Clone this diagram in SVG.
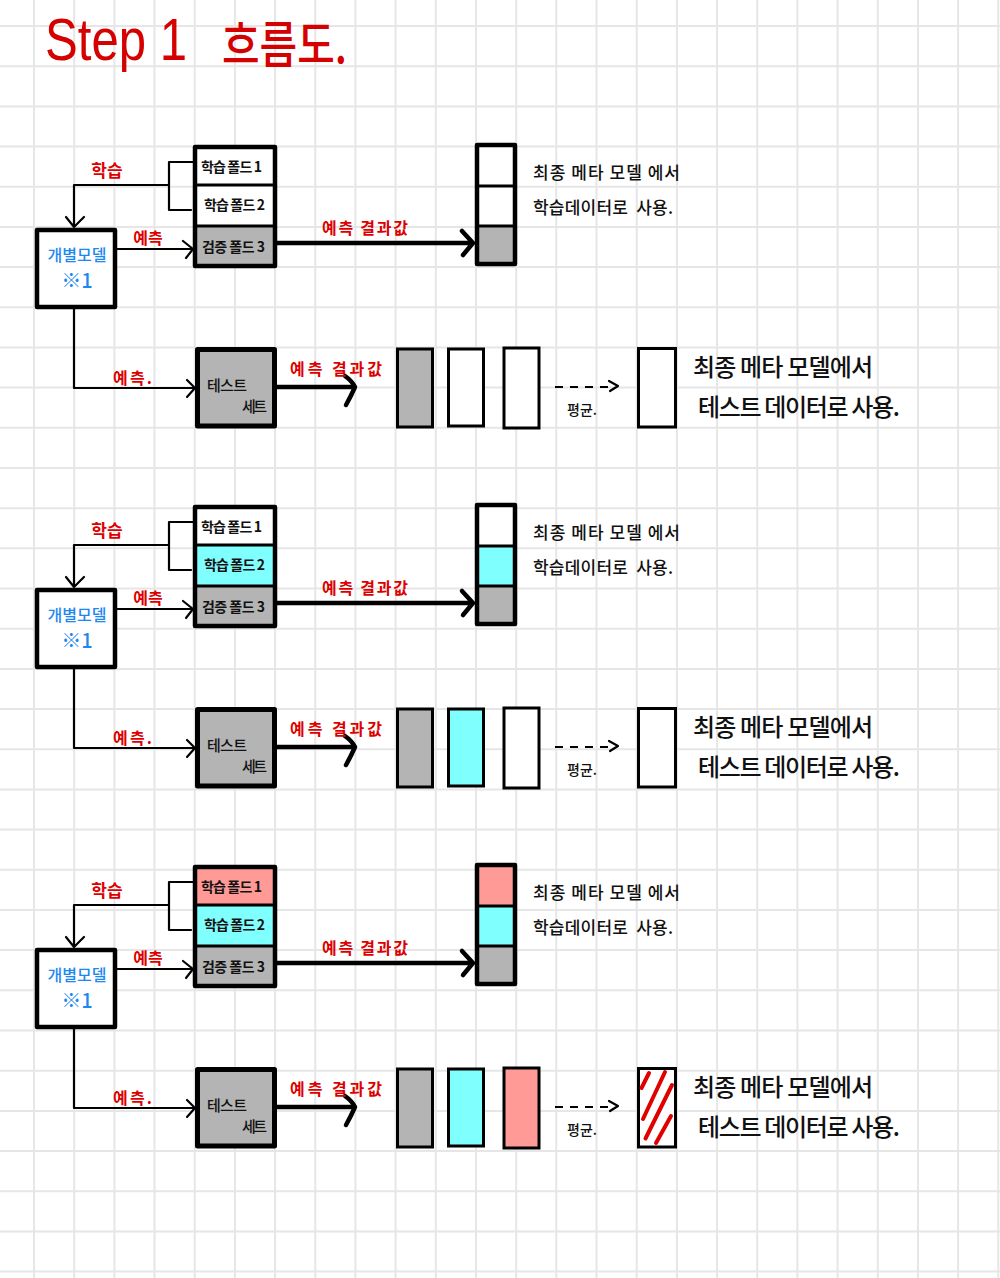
<svg xmlns="http://www.w3.org/2000/svg" width="1000" height="1278" viewBox="0 0 1000 1278">
<style>
.grid{stroke:#e6e6e6;stroke-width:2;fill:none}
.k{fill:none;stroke:#000;stroke-width:2.2;stroke-linecap:round;stroke-linejoin:round}
.K{fill:none;stroke:#000;stroke-width:4.5;stroke-linecap:round;stroke-linejoin:round}
.dash{fill:none;stroke:#000;stroke-width:1.8;stroke-dasharray:8 7}
.box{stroke:#000;stroke-width:4.5;stroke-linejoin:round}
.tb{stroke:#000;stroke-width:5;stroke-linejoin:round}
.dv{stroke:#000;stroke-width:3}
.pr{stroke:#000;stroke-width:3}
.g{fill:#b4b4b4}.c{fill:#80ffff}.s{fill:#ff9a96}.w{fill:#fff}
text{font-family:"Noto Sans CJK KR","Liberation Sans",sans-serif}
text.latin{font-family:"Liberation Sans",sans-serif}
.red{fill:#dd0000;font-weight:700}
.blue{fill:#1e88f0;font-weight:500}
.ink{fill:#111;font-weight:500}
.fold{fill:#111;font-weight:700}
.hatch{stroke:#e00000;stroke-width:4;stroke-linecap:round;fill:none}
</style>
<rect width="1000" height="1278" fill="#fff"/>
<path class="grid" d="M34 0V1278M74.2 0V1278M114.4 0V1278M154.5 0V1278M194.7 0V1278M234.9 0V1278M275.1 0V1278M315.3 0V1278M355.4 0V1278M395.6 0V1278M435.8 0V1278M476 0V1278M516.2 0V1278M556.3 0V1278M596.5 0V1278M636.7 0V1278M676.9 0V1278M717.1 0V1278M757.2 0V1278M797.4 0V1278M837.6 0V1278M877.8 0V1278M918 0V1278M958.1 0V1278M998.3 0V1278M0 26H1000M0 66.2H1000M0 106.4H1000M0 146.5H1000M0 186.7H1000M0 226.9H1000M0 267.1H1000M0 307.3H1000M0 347.4H1000M0 387.6H1000M0 427.8H1000M0 468H1000M0 508.2H1000M0 548.3H1000M0 588.5H1000M0 628.7H1000M0 668.9H1000M0 709.1H1000M0 749.2H1000M0 789.4H1000M0 829.6H1000M0 869.8H1000M0 910H1000M0 950.1H1000M0 990.3H1000M0 1030.5H1000M0 1070.7H1000M0 1110.9H1000M0 1151H1000M0 1191.2H1000M0 1231.4H1000M0 1271.6H1000"/>

<g id="title">
<text class="latin" x="45" y="60" font-size="60" fill="#d50000" textLength="142" lengthAdjust="spacingAndGlyphs">Step 1</text>
<text x="222" y="63" font-size="50" fill="#d50000" font-weight="500" textLength="125" lengthAdjust="spacingAndGlyphs">흐름도.</text>
</g>

<g id="connectors">
<g id="conn-b1">
<path class="k" d="M193 162H169V210H191M169 185H74V226M66 217L74 227L84 217"/>
<path class="k" d="M117 249H192M183 241L193 249L186 258"/>
<path class="K" d="M277 243H472M462 231L473 243L463 255"/>
<path class="k" d="M74 309V388H194M187 380L195 388L187 397"/>
<path class="K" d="M277 387H354M345 376Q352 381 355 387Q351 396 346 405"/>
<path class="dash" d="M555 387H612"/><path class="k" d="M609 381L618 386L610 391"/>
<text class="red" x="107" y="177" font-size="17" text-anchor="middle">학습</text>
<text class="red" x="148" y="244" font-size="16" text-anchor="middle">예측</text>
<text class="red" x="322" y="234" font-size="16" textLength="86">예측 결과값</text>
<text class="red" x="113" y="384" font-size="16" textLength="39">예측.</text>
<text class="red" x="290" y="375" font-size="16" textLength="92">예측 결과값</text>
<text class="ink" x="567" y="415" font-size="14">평균.</text>
</g>
<g id="conn-b2" transform="translate(0,360)">
<path class="k" d="M193 162H169V210H191M169 185H74V226M66 217L74 227L84 217"/>
<path class="k" d="M117 249H192M183 241L193 249L186 258"/>
<path class="K" d="M277 243H472M462 231L473 243L463 255"/>
<path class="k" d="M74 309V388H194M187 380L195 388L187 397"/>
<path class="K" d="M277 387H354M345 376Q352 381 355 387Q351 396 346 405"/>
<path class="dash" d="M555 387H612"/><path class="k" d="M609 381L618 386L610 391"/>
<text class="red" x="107" y="177" font-size="17" text-anchor="middle">학습</text>
<text class="red" x="148" y="244" font-size="16" text-anchor="middle">예측</text>
<text class="red" x="322" y="234" font-size="16" textLength="86">예측 결과값</text>
<text class="red" x="113" y="384" font-size="16" textLength="39">예측.</text>
<text class="red" x="290" y="375" font-size="16" textLength="92">예측 결과값</text>
<text class="ink" x="567" y="415" font-size="14">평균.</text>
</g>
<g id="conn-b3" transform="translate(0,720)">
<path class="k" d="M193 162H169V210H191M169 185H74V226M66 217L74 227L84 217"/>
<path class="k" d="M117 249H192M183 241L193 249L186 258"/>
<path class="K" d="M277 243H472M462 231L473 243L463 255"/>
<path class="k" d="M74 309V388H194M187 380L195 388L187 397"/>
<path class="K" d="M277 387H354M345 376Q352 381 355 387Q351 396 346 405"/>
<path class="dash" d="M555 387H612"/><path class="k" d="M609 381L618 386L610 391"/>
<text class="red" x="107" y="177" font-size="17" text-anchor="middle">학습</text>
<text class="red" x="148" y="244" font-size="16" text-anchor="middle">예측</text>
<text class="red" x="322" y="234" font-size="16" textLength="86">예측 결과값</text>
<text class="red" x="113" y="384" font-size="16" textLength="39">예측.</text>
<text class="red" x="290" y="375" font-size="16" textLength="92">예측 결과값</text>
<text class="ink" x="567" y="415" font-size="14">평균.</text>
</g>
</g>

<!-- Block 1 -->
<g id="block1">
<g id="b1-model"><rect class="box w" x="37" y="230" width="78" height="77"/>
<text class="blue" x="77" y="261" font-size="16" text-anchor="middle" textLength="59">개별모델</text>
<text class="blue" x="77" y="288" font-size="20" text-anchor="middle">※1</text></g>
<g id="b1-folds">
<rect class="w" x="195" y="147" width="80" height="38"/><rect class="w" x="195" y="185" width="80" height="41"/><rect class="g" x="195" y="226" width="80" height="40"/>
<path class="dv" d="M195 185H275M195 226H275"/><rect class="box" fill="none" x="195" y="147" width="80" height="119"/>
<text class="fold" x="201" y="172" font-size="14" textLength="61">학습 폴드 1</text>
<text class="fold" x="204" y="210" font-size="14" textLength="61">학습 폴드 2</text>
<text class="fold" x="202" y="252" font-size="14" textLength="63">검증 폴드 3</text></g>
<g id="b1-result">
<rect class="w" x="477" y="145" width="38" height="41"/><rect class="w" x="477" y="186" width="38" height="40"/><rect class="g" x="477" y="226" width="38" height="38"/>
<path class="dv" d="M477 186H515M477 226H515"/><rect class="box" fill="none" x="477" y="145" width="38" height="119"/>
<text class="ink" x="533" y="179" font-size="17" textLength="147">최종 메타 모델 에서</text>
<text class="ink" x="533" y="214" font-size="17" textLength="140">학습데이터로&#160;&#160;사용.</text></g>
<g id="b1-test"><rect class="tb g" x="197.5" y="349.5" width="77" height="76.5"/>
<text class="ink" x="207" y="391" font-size="15" textLength="40">테스트</text>
<text class="ink" x="242" y="412" font-size="15" textLength="25">세트</text></g>
<g id="b1-preds">
<rect class="pr g" x="397.5" y="349" width="35" height="78"/>
<rect class="pr w" x="448.5" y="349" width="35" height="77"/>
<rect class="pr w" x="504" y="348" width="35" height="80"/></g>
<g id="b1-final"><rect class="pr w" x="638.5" y="348.5" width="37" height="78.5"/>
<text class="ink" x="693" y="376" font-size="24" textLength="180">최종 메타 모델에서</text>
<text class="ink" x="698" y="416" font-size="24" textLength="202">테스트 데이터로 사용.</text></g>
</g>

<!-- Block 2 -->
<g id="block2" transform="translate(0,360)">
<g id="b2-model"><rect class="box w" x="37" y="230" width="78" height="77"/>
<text class="blue" x="77" y="261" font-size="16" text-anchor="middle" textLength="59">개별모델</text>
<text class="blue" x="77" y="288" font-size="20" text-anchor="middle">※1</text></g>
<g id="b2-folds">
<rect class="w" x="195" y="147" width="80" height="38"/><rect class="c" x="195" y="185" width="80" height="41"/><rect class="g" x="195" y="226" width="80" height="40"/>
<path class="dv" d="M195 185H275M195 226H275"/><rect class="box" fill="none" x="195" y="147" width="80" height="119"/>
<text class="fold" x="201" y="172" font-size="14" textLength="61">학습 폴드 1</text>
<text class="fold" x="204" y="210" font-size="14" textLength="61">학습 폴드 2</text>
<text class="fold" x="202" y="252" font-size="14" textLength="63">검증 폴드 3</text></g>
<g id="b2-result">
<rect class="w" x="477" y="145" width="38" height="41"/><rect class="c" x="477" y="186" width="38" height="40"/><rect class="g" x="477" y="226" width="38" height="38"/>
<path class="dv" d="M477 186H515M477 226H515"/><rect class="box" fill="none" x="477" y="145" width="38" height="119"/>
<text class="ink" x="533" y="179" font-size="17" textLength="147">최종 메타 모델 에서</text>
<text class="ink" x="533" y="214" font-size="17" textLength="140">학습데이터로&#160;&#160;사용.</text></g>
<g id="b2-test"><rect class="tb g" x="197.5" y="349.5" width="77" height="76.5"/>
<text class="ink" x="207" y="391" font-size="15" textLength="40">테스트</text>
<text class="ink" x="242" y="412" font-size="15" textLength="25">세트</text></g>
<g id="b2-preds">
<rect class="pr g" x="397.5" y="349" width="35" height="78"/>
<rect class="pr c" x="448.5" y="349" width="35" height="77"/>
<rect class="pr w" x="504" y="348" width="35" height="80"/></g>
<g id="b2-final"><rect class="pr w" x="638.5" y="348.5" width="37" height="78.5"/>
<text class="ink" x="693" y="376" font-size="24" textLength="180">최종 메타 모델에서</text>
<text class="ink" x="698" y="416" font-size="24" textLength="202">테스트 데이터로 사용.</text></g>
</g>

<!-- Block 3 -->
<g id="block3" transform="translate(0,720)">
<g id="b3-model"><rect class="box w" x="37" y="230" width="78" height="77"/>
<text class="blue" x="77" y="261" font-size="16" text-anchor="middle" textLength="59">개별모델</text>
<text class="blue" x="77" y="288" font-size="20" text-anchor="middle">※1</text></g>
<g id="b3-folds">
<rect class="s" x="195" y="147" width="80" height="38"/><rect class="c" x="195" y="185" width="80" height="41"/><rect class="g" x="195" y="226" width="80" height="40"/>
<path class="dv" d="M195 185H275M195 226H275"/><rect class="box" fill="none" x="195" y="147" width="80" height="119"/>
<text class="fold" x="201" y="172" font-size="14" textLength="61">학습 폴드 1</text>
<text class="fold" x="204" y="210" font-size="14" textLength="61">학습 폴드 2</text>
<text class="fold" x="202" y="252" font-size="14" textLength="63">검증 폴드 3</text></g>
<g id="b3-result">
<rect class="s" x="477" y="145" width="38" height="41"/><rect class="c" x="477" y="186" width="38" height="40"/><rect class="g" x="477" y="226" width="38" height="38"/>
<path class="dv" d="M477 186H515M477 226H515"/><rect class="box" fill="none" x="477" y="145" width="38" height="119"/>
<text class="ink" x="533" y="179" font-size="17" textLength="147">최종 메타 모델 에서</text>
<text class="ink" x="533" y="214" font-size="17" textLength="140">학습데이터로&#160;&#160;사용.</text></g>
<g id="b3-test"><rect class="tb g" x="197.5" y="349.5" width="77" height="76.5"/>
<text class="ink" x="207" y="391" font-size="15" textLength="40">테스트</text>
<text class="ink" x="242" y="412" font-size="15" textLength="25">세트</text></g>
<g id="b3-preds">
<rect class="pr g" x="397.5" y="349" width="35" height="78"/>
<rect class="pr c" x="448.5" y="349" width="35" height="77"/>
<rect class="pr s" x="504" y="348" width="35" height="80"/></g>
<g id="b3-final"><rect class="pr w" x="638.5" y="348.5" width="37" height="78.5"/>
<path class="hatch" d="M649 353L641.5 368M665 352L643 399M672 365L645.5 418.5M671 396L656 423"/>
<text class="ink" x="693" y="376" font-size="24" textLength="180">최종 메타 모델에서</text>
<text class="ink" x="698" y="416" font-size="24" textLength="202">테스트 데이터로 사용.</text></g>
</g>
</svg>
